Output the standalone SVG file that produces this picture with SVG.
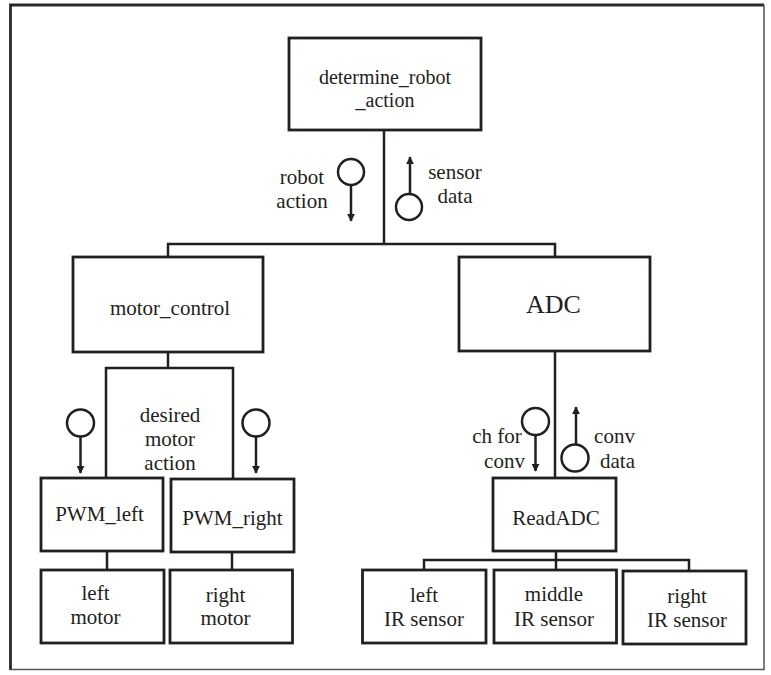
<svg xmlns="http://www.w3.org/2000/svg" width="771" height="675" viewBox="0 0 771 675">
<style>
.box{fill:#fff;stroke:#231f20;stroke-width:2.8}
.ln{fill:none;stroke:#231f20;stroke-width:2.5}
.cir{fill:none;stroke:#231f20;stroke-width:2.5}
text{font-family:"Liberation Serif","Times New Roman",serif;font-size:21px;fill:#231f20;text-anchor:middle}
.big{font-size:26px}
.t20{font-size:20px}
</style>
<defs>
<marker id="ah" viewBox="0 0 10 10" refX="9" refY="5" markerWidth="8" markerHeight="8" markerUnits="userSpaceOnUse" orient="auto">
<path d="M0,0 L10,5 L0,10 Z" fill="#231f20"/>
</marker>
</defs>
<rect width="771" height="675" fill="#fff"/>
<g id="frame">
<path d="M10.5,670 L10.5,5 L764,5" fill="none" stroke="#2a2a2a" stroke-width="2.8"/>
<path d="M764,5 L764,669.5 L10.5,669.5" fill="none" stroke="#555" stroke-width="1.5"/>
</g>
<g id="connectors">
<path class="ln" d="M384,130 V244 M168,257 V244 H555 V257"/>
<path class="ln" d="M168,352 V368 M106,478 V368 H233 V478"/>
<path class="ln" d="M107,551 V570 M232,552 V570"/>
<path class="ln" d="M555,351 V478"/>
<path class="ln" d="M556,551 V560 M424,570 V560 H689 V571 M556,560 V570"/>
</g>
<g id="flows">
<circle class="cir" cx="351" cy="172" r="13"/>
<line class="ln" x1="351" y1="185" x2="351" y2="221" marker-end="url(#ah)"/>
<circle class="cir" cx="409" cy="207" r="13"/>
<line class="ln" x1="410" y1="194" x2="410" y2="157" marker-end="url(#ah)"/>
<text x="302" y="184">robot</text>
<text x="302" y="208">action</text>
<text x="455" y="179">sensor</text>
<text x="455" y="203">data</text>
<circle class="cir" cx="80.5" cy="423" r="13.5"/>
<line class="ln" x1="80.5" y1="436.5" x2="80.5" y2="473" marker-end="url(#ah)"/>
<circle class="cir" cx="256" cy="423" r="13.5"/>
<line class="ln" x1="256" y1="436.5" x2="256" y2="473" marker-end="url(#ah)"/>
<text x="170" y="422">desired</text>
<text x="170" y="446">motor</text>
<text x="170" y="470">action</text>
<circle class="cir" cx="535.5" cy="421.5" r="13.5"/>
<line class="ln" x1="535.5" y1="435" x2="535.5" y2="471" marker-end="url(#ah)"/>
<circle class="cir" cx="575" cy="458" r="13.5"/>
<line class="ln" x1="576" y1="444.5" x2="576" y2="407" marker-end="url(#ah)"/>
<text x="497" y="443">ch for</text>
<text x="504.5" y="468">conv</text>
<text x="614.5" y="443">conv</text>
<text x="617.5" y="468">data</text>
</g>
<g id="determine_robot_action">
<rect class="box" x="289" y="38" width="192" height="92"/>
<text class="t20" x="385" y="84">determine_robot</text>
<text class="t20" x="385" y="107">_action</text>
</g>
<g id="motor_control">
<rect class="box" x="73" y="257" width="190" height="95"/>
<text x="170" y="315">motor_control</text>
</g>
<g id="ADC">
<rect class="box" x="459" y="257" width="191" height="94"/>
<text class="big" x="553.5" y="313">ADC</text>
</g>
<g id="PWM_left">
<rect class="box" x="41" y="478" width="122" height="73"/>
<text x="99.5" y="521">PWM_left</text>
</g>
<g id="PWM_right">
<rect class="box" x="171" y="479" width="123" height="73"/>
<text x="232.5" y="525">PWM_right</text>
</g>
<g id="left_motor">
<rect class="box" x="41" y="570" width="123" height="73"/>
<text x="95.5" y="600">left</text>
<text x="95.5" y="624">motor</text>
</g>
<g id="right_motor">
<rect class="box" x="170" y="570" width="122.5" height="73"/>
<text x="225.5" y="601.5">right</text>
<text x="225.5" y="625">motor</text>
</g>
<g id="ReadADC">
<rect class="box" x="493" y="478" width="123" height="73"/>
<text x="556" y="525">ReadADC</text>
</g>
<g id="left_IR_sensor">
<rect class="box" x="362.5" y="570" width="123.5" height="73"/>
<text x="424" y="601.5">left</text>
<text x="424" y="625.5">IR sensor</text>
</g>
<g id="middle_IR_sensor">
<rect class="box" x="494" y="570" width="122.5" height="73"/>
<text x="554" y="601">middle</text>
<text x="554" y="625.5">IR sensor</text>
</g>
<g id="right_IR_sensor">
<rect class="box" x="623" y="571" width="123" height="73"/>
<text x="687" y="603">right</text>
<text x="687" y="627">IR sensor</text>
</g>
</svg>
